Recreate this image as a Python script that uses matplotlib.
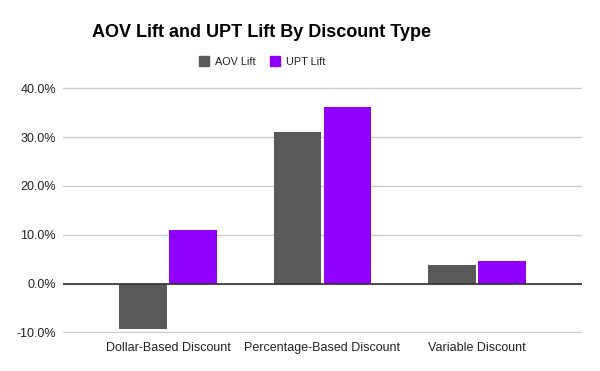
import matplotlib.pyplot as plt
import numpy as np
from matplotlib.ticker import FuncFormatter
from matplotlib.lines import Line2D

plt.rcParams['font.family'] = ['Liberation Sans', 'DejaVu Sans']

categories = ['Dollar-Based Discount', 'Percentage-Based Discount', 'Variable Discount']
aov_lift = [-9.3, 31.0, 3.7]
upt_lift = [11.0, 36.1, 4.7]
series_names = ['AOV Lift', 'UPT Lift']
colors = ['#595959', '#8f00ff']

fig = plt.figure(figsize=(6, 3.71), dpi=100)
ax = fig.add_axes([0.105, 0.1016, 0.865, 0.6631])

x = np.arange(len(categories))
w = 0.307
off = 0.161
ax.bar(x - off, aov_lift, w, color=colors[0], zorder=3)
ax.bar(x + off, upt_lift, w, color=colors[1], zorder=3)

ax.set_xlim(-0.68, 2.68)
ax.set_ylim(-10.2, 40.2)
ax.set_yticks([-10, 0, 10, 20, 30, 40])
ax.yaxis.set_major_formatter(FuncFormatter(lambda v, p: '%.1f%%' % v))
ax.grid(axis='y', color='#cccccc', linewidth=1, zorder=0)
ax.axhline(0, color='#333333', linewidth=1.2, zorder=4)
ax.set_xticks(x)
ax.set_xticklabels(categories)
ax.tick_params(axis='both', length=0, labelsize=9, colors='#222222')
ax.tick_params(axis='y', pad=5)
ax.tick_params(axis='x', pad=6)
for s in ax.spines.values():
    s.set_visible(False)

fig.text(0.435, 0.912, 'AOV Lift and UPT Lift By Discount Type', ha='center', va='center',
         fontsize=13, fontweight='bold', color='#000000')

handles = [Line2D([], [], marker='s', linestyle='', markersize=7.5, color=c) for c in colors]
fig.legend(handles, series_names, loc='center', bbox_to_anchor=(0.436, 0.834), ncol=2,
           frameon=False, fontsize=7.8, handletextpad=0.5,
           columnspacing=1.3, handlelength=1.0, labelcolor='#222222')

plt.savefig('out.png', dpi=100)
plt.close()
